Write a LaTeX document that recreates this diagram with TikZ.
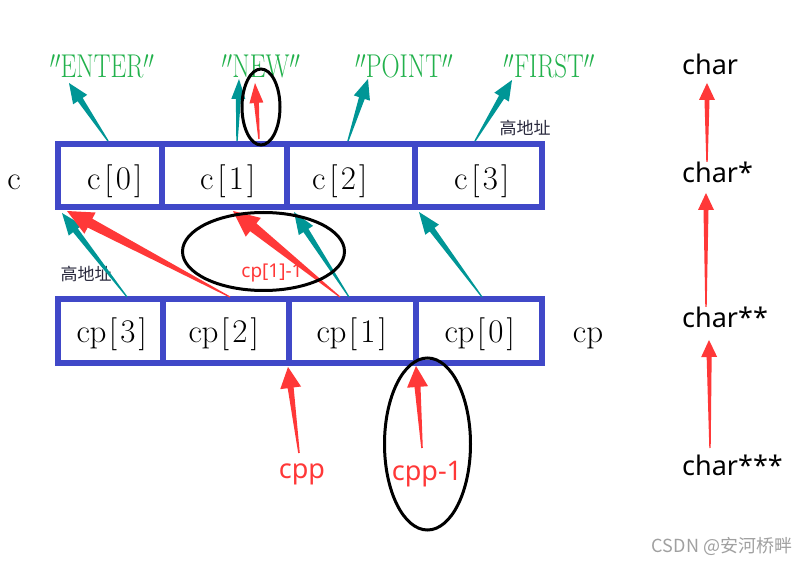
\documentclass[tikz,border=0pt]{standalone}
\usepackage{fontspec}
\usepackage{graphicx}
\usetikzlibrary{calc}
\newfontfamily\cjk{Noto Sans CJK SC}
\newfontfamily\sansf{Noto Sans}
\definecolor{boxblue}{RGB}{64,72,200}
\definecolor{tealc}{RGB}{0,150,150}
\definecolor{redc}{RGB}{255,56,56}
\definecolor{greenc}{RGB}{34,177,76}
\definecolor{darkc}{RGB}{40,40,60}
\makeatletter
\newcommand\mono[2]{\@tfor\mon@ch:=#2\do{\makebox[#1]{\mon@ch}}}
\makeatother
% tapered block arrow: colour, from, to, head length, head half width, shaft half width, tail half width
\newcommand\fatarr[7]{%
  \coordinate (fac) at ($(#3)!#4!(#2)$);
  \fill[#1] ($(#2)!#7!90:(#3)$) -- ($(fac)!#6!-90:(#2)$) -- ($(fac)!#5!-90:(#2)$) -- (#3)
    -- ($(fac)!#5!90:(#2)$) -- ($(fac)!#6!90:(#2)$) -- ($(#2)!#7!-90:(#3)$) -- cycle;
}
\begin{document}
\begin{tikzpicture}[x=1pt,y=-1pt,
  cellbox/.style={draw=boxblue, line width=5.5pt},
  serif/.style={font=\fontsize{33}{36}\selectfont, inner sep=0pt, anchor=base},
  greentxt/.style={font=\fontsize{33}{36}\selectfont, inner sep=0pt, anchor=base, text=greenc},
  sanslbl/.style={font=\sansf\fontsize{27}{30}\selectfont, inner sep=0pt, anchor=base},
  redlbl/.style={font=\sansf\fontsize{27}{30}\selectfont, inner sep=0pt, anchor=base, text=redc},
  cjklbl/.style={font=\cjk\fontsize{17}{20}\selectfont, inner sep=0pt, text=darkc},
  ring/.style={draw=black, line width=3pt}]
\path[use as bounding box] (0,0) rectangle (812,564);

% boxes
\draw[cellbox] (58,144) rectangle (542,207);
\draw[cellbox] (162,144) -- (162,207);
\draw[cellbox] (287,144) -- (287,207);
\draw[cellbox] (415,144) -- (415,207);
\draw[cellbox] (58,299) rectangle (542,363);
\draw[cellbox] (163,299) -- (163,363);
\draw[cellbox] (289,299) -- (289,363);
\draw[cellbox] (416,299) -- (416,363);

% text in boxes
\node[serif] (clab) at (14,190) {c};
\node[serif] (c0) at (116,190) {\mono{0.45em}{c[0]}};
\node[serif] (c1) at (229,190) {\mono{0.45em}{c[1]}};
\node[serif] (c2) at (341,190) {\mono{0.45em}{c[2]}};
\node[serif] (c3) at (483,190) {\mono{0.45em}{c[3]}};
\node[serif] (cp3) at (113,343) {\mono{0.45em}{cp[3]}};
\node[serif] (cp2) at (225,343) {\mono{0.45em}{cp[2]}};
\node[serif] (cp1) at (353,343) {\mono{0.45em}{cp[1]}};
\node[serif] (cp0) at (481,343) {\mono{0.45em}{cp[0]}};
\node[serif] (cplab) at (588,343) {cp};

% strings
\node[greentxt] (s0) at (102,78) {\scalebox{0.76}[1]{$''$ENTER$''$}};
\node[greentxt] (s1) at (261,78) {\scalebox{0.76}[1]{$''$NEW$''$}};
\node[greentxt] (s2) at (404,78) {\scalebox{0.76}[1]{$''$POINT$''$}};
\node[greentxt] (s3) at (549,78) {\scalebox{0.76}[1]{$''$FIRST$''$}};

\node[cjklbl] (hi1) at (525,128) {高地址};
\node[cjklbl] (hi2) at (86,274) {高地址};

% arrow end points
\coordinate (a1t) at (108,141); \coordinate (a1h) at (69,83);
\coordinate (a2t) at (237,141); \coordinate (a2h) at (239,79);
\coordinate (a3t) at (259,139); \coordinate (a3h) at (255,83);
\coordinate (a4t) at (348,141); \coordinate (a4h) at (368,79);
\coordinate (a5t) at (475,141); \coordinate (a5h) at (512,80);
\coordinate (m1t) at (127,297); \coordinate (m1h) at (62,213);
\coordinate (m2t) at (230,297); \coordinate (m2h) at (67,211);
\coordinate (m3t) at (340,297); \coordinate (m3h) at (233,211);
\coordinate (m4t) at (349,297); \coordinate (m4h) at (294,212);
\coordinate (m5t) at (482,297); \coordinate (m5h) at (419,212);
\coordinate (b1t) at (299,453); \coordinate (b1h) at (288,367);
\coordinate (b2t) at (422,448); \coordinate (b2h) at (416,366);

% arrows top
\fatarr{tealc}{a1t}{a1h}{20pt}{8.5pt}{3pt}{0.7pt}
\fatarr{tealc}{a2t}{a2h}{20pt}{7pt}{2.5pt}{0.7pt}
\fatarr{redc}{a3t}{a3h}{20pt}{7pt}{2.5pt}{0.7pt}
\fatarr{tealc}{a4t}{a4h}{20pt}{8.5pt}{3pt}{0.7pt}
\fatarr{tealc}{a5t}{a5h}{20pt}{8.5pt}{3pt}{0.7pt}
% arrows middle
\fatarr{tealc}{m1t}{m1h}{22pt}{8.5pt}{3pt}{0.6pt}
\fatarr{redc}{m2t}{m2h}{26pt}{12pt}{5pt}{0.6pt}
\fatarr{redc}{m3t}{m3h}{26pt}{12pt}{5pt}{0.6pt}
\fatarr{tealc}{m4t}{m4h}{22pt}{8.5pt}{3pt}{0.6pt}
\fatarr{tealc}{m5t}{m5h}{22pt}{8.5pt}{3pt}{0.6pt}
% arrows bottom
\fatarr{redc}{b1t}{b1h}{21pt}{10.5pt}{3pt}{0.8pt}
\fatarr{redc}{b2t}{b2h}{21pt}{10.5pt}{3pt}{0.8pt}

% ellipses
\draw[ring] (261,107) ellipse [x radius=19, y radius=38];
\draw[ring] (263.5,251.5) ellipse [x radius=81, y radius=39];
\draw[ring] (427.5,444) ellipse [x radius=43, y radius=86];

\node[font=\sansf\fontsize{19}{22}\selectfont, inner sep=0pt, anchor=base, text=redc] (cpm) at (272,278) {cp[1]-1};
\node[redlbl] (cpp) at (302,478) {cpp};
\node[redlbl] (cppm) at (427,480) {cpp-1};

% type column
\node[sanslbl, anchor=base west] (t0) at (682,75) {char};
\node[sanslbl, anchor=base west] (t1) at (682,183) {char*};
\node[sanslbl, anchor=base west] (t2) at (682,328) {char**};
\node[sanslbl, anchor=base west] (t3) at (682,475) {char***};
\coordinate (r1t) at (707,162); \coordinate (r1h) at (707,83);
\coordinate (r2t) at (706,307); \coordinate (r2h) at (706,193);
\coordinate (r3t) at (710,448); \coordinate (r3h) at (709,340);
\fatarr{redc}{r1t}{r1h}{17pt}{8pt}{2.5pt}{0.7pt}
\fatarr{redc}{r2t}{r2h}{17pt}{8pt}{2.5pt}{0.7pt}
\fatarr{redc}{r3t}{r3h}{17pt}{8pt}{2.5pt}{0.7pt}

\node[font=\cjk\fontsize{18}{21}\selectfont, inner sep=0pt, text={rgb,255:red,160;green,160;blue,160}] (wm) at (722,546) {CSDN @安河桥畔};
\end{tikzpicture}
\end{document}
